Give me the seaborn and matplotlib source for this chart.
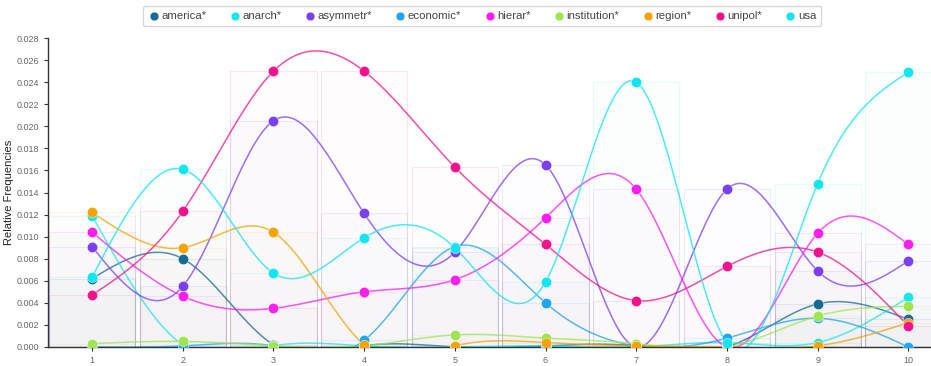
import numpy as np
import pandas as pd
import matplotlib
matplotlib.use("Agg")
import matplotlib.pyplot as plt
import seaborn as sns

# Data
x_pos = [1, 2, 3, 4, 5, 6, 7, 8, 9, 10]
x_labels = ["1", "2", "3", "4", "5", "6", "7", "8", "9", "10"]

america = [0.0062, 0.0080, 0.0002, 0.0001, 0.0000, 0.0001, 0.0001, 0.0000, 0.0039, 0.0025]
anarch = [0.0119, 0.0002, 0.0001, 0.0001, 0.0000, 0.0001, 0.0000, 0.0004, 0.0004, 0.0045]
asymmetr = [0.0091, 0.0055, 0.0205, 0.0121, 0.0086, 0.0165, 0.0000, 0.0143, 0.0069, 0.0078]
economic = [0.0000, 0.0001, 0.0001, 0.0006, 0.0091, 0.0040, 0.0001, 0.0008, 0.0026, 0.0000]
hierar = [0.0104, 0.0046, 0.0035, 0.0050, 0.0061, 0.0117, 0.0143, 0.0000, 0.0103, 0.0093]
institution = [0.0003, 0.0005, 0.0001, 0.0001, 0.0011, 0.0008, 0.0003, 0.0000, 0.0028, 0.0037]
region = [0.0122, 0.0090, 0.0104, 0.0002, 0.0001, 0.0004, 0.0001, 0.0000, 0.0001, 0.0022]
unipol = [0.0047, 0.0123, 0.0250, 0.0250, 0.0163, 0.0093, 0.0042, 0.0073, 0.0086, 0.0019]
usa = [0.0063, 0.0161, 0.0067, 0.0099, 0.0090, 0.0059, 0.0240, 0.0004, 0.0148, 0.0249]

names = ["america*", "anarch*", "asymmetr*", "economic*", "hierar*",
         "institution*", "region*", "unipol*", "usa"]
values = [america, anarch, asymmetr, economic, hierar, institution, region, unipol, usa]
colors = ["#176a96", "#1ee6e6", "#7c3ff0", "#1ea6f0", "#fa1ef0",
          "#9de64f", "#f5a300", "#f2128c", "#10e6f2"]


def natural_spline(x, y, n_pts=40):
    # natural cubic spline through the points (uniform spacing)
    x = np.asarray(x, float)
    y = np.asarray(y, float)
    n = len(x)
    h = x[1] - x[0]
    A = np.zeros((n, n))
    r = np.zeros(n)
    A[0, 0] = A[-1, -1] = 1
    for i in range(1, n - 1):
        A[i, i - 1] = 1
        A[i, i] = 4
        A[i, i + 1] = 1
        r[i] = 6 * (y[i + 1] - 2 * y[i] + y[i - 1]) / h ** 2
    M = np.linalg.solve(A, r)
    xs, ys = [], []
    for i in range(n - 1):
        t = np.linspace(0, 1, n_pts, endpoint=(i == n - 2))
        s = ((1 - t) * y[i] + t * y[i + 1]
             + ((1 - t) ** 3 - (1 - t)) * M[i] * h ** 2 / 6
             + (t ** 3 - t) * M[i + 1] * h ** 2 / 6)
        xs.append(x[i] + t * h)
        ys.append(s)
    return np.concatenate(xs), np.concatenate(ys)


sns.set_style("white")
plt.rcParams['font.family'] = ['Liberation Sans', 'DejaVu Sans']

fig = plt.figure(figsize=(9.31, 3.66), dpi=100)
ax = fig.add_axes([0.0516, 0.052, 0.9484, 0.844])

# faint background bars
for name, vals, col in zip(names, values, colors):
    ax.bar(x_pos, vals, width=0.95, color=col, alpha=0.012, zorder=1)
    ax.bar(x_pos, vals, width=0.95, facecolor="none", edgecolor=col,
           alpha=0.1, linewidth=0.8, zorder=1)

# smooth lines
for name, vals, col in zip(names, values, colors):
    xs, ys = natural_spline(x_pos, vals)
    sns.lineplot(x=xs, y=ys, color=col, linewidth=1.1, alpha=0.75,
                 sort=False, estimator=None, ax=ax, zorder=2)

# points
for name, vals, col in zip(names, values, colors):
    sns.scatterplot(x=x_pos, y=vals, color=col, s=55, edgecolor="#ffffff",
                    linewidth=0.3, ax=ax, zorder=3, label=name)

ax.set_xlim(0.515, 10.25)
ax.set_ylim(0, 0.028)
ax.set_xticks(x_pos)
ax.set_xticklabels(x_labels)
ax.set_yticks(np.arange(0, 0.0281, 0.002))
ax.set_yticklabels([f"{v:.3f}" for v in np.arange(0, 0.0281, 0.002)])
ax.tick_params(axis="both", labelsize=6.5, labelcolor="#666666", length=3,
               width=0.8, color="#333333", direction="out", bottom=True, left=True)
ax.set_ylabel("Relative Frequencies", fontsize=8, color="#222222", labelpad=2)
ax.set_xlabel("")
for side in ["top", "right"]:
    ax.spines[side].set_visible(False)
for side in ["left", "bottom"]:
    ax.spines[side].set_color("#333333")
    ax.spines[side].set_linewidth(1.0)

handles, labels = ax.get_legend_handles_labels()
ax.get_legend().remove()
leg = fig.legend(handles, labels, loc="center", bbox_to_anchor=(0.518, 0.956),
                 ncol=9, fontsize=8.2, frameon=True, fancybox=True,
                 edgecolor="#cccccc", handletextpad=0.15, columnspacing=2.0,
                 borderpad=0.45, handlelength=1.0, markerscale=0.85)
for t in leg.get_texts():
    t.set_color("#444444")

fig.savefig("out.png", dpi=100)
